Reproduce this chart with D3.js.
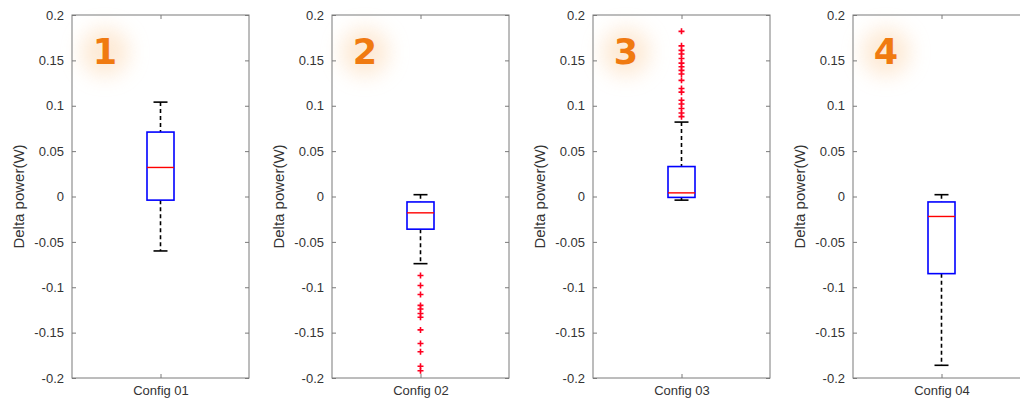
<!DOCTYPE html>
<html><head><meta charset="utf-8">
<script src="https://cdn.jsdelivr.net/npm/d3@7"></script>
<style>
html,body{margin:0;padding:0;background:#fff;overflow:hidden;}
svg{display:block;}
</style></head>
<body>
<script>
// ---- data ----
const categories = ["Config 01", "Config 02", "Config 03", "Config 04"];
const panelNumbers = ["1", "2", "3", "4"];
const whiskerHigh = [0.104, 0.002, 0.082, 0.002];
const q3 = [0.071, -0.006, 0.033, -0.006];
const median = [0.032, -0.018, 0.004, -0.022];
const q1 = [-0.004, -0.036, -0.001, -0.085];
const whiskerLow = [-0.060, -0.074, -0.004, -0.186];
const outliers = [
  [],
  [-0.087, -0.098, -0.108, -0.120, -0.124, -0.129, -0.133, -0.147, -0.162, -0.171, -0.187, -0.192],
  [0.182, 0.166, 0.161, 0.157, 0.152, 0.147, 0.143, 0.139, 0.135, 0.128, 0.119, 0.115, 0.106, 0.102, 0.097, 0.092, 0.088],
  []
];
const yTicks = [0.2, 0.15, 0.1, 0.05, 0, -0.05, -0.1, -0.15, -0.2];
const yTickLabels = ["0.2", "0.15", "0.1", "0.05", "0", "-0.05", "-0.1", "-0.15", "-0.2"];
const yLabel = "Delta power(W)";

// ---- layout ----
const W = 1020, H = 405;
const panelLefts = [72, 332, 593, 853];
const panelW = 177;
const plotTop = 15, plotBottom = 378;

const svg = d3.select("body").append("svg").attr("width", W).attr("height", H);
const defs = svg.append("defs");
const glow = defs.append("filter").attr("id", "glow").attr("x", "-100%").attr("y", "-100%").attr("width", "300%").attr("height", "300%");
glow.append("feGaussianBlur").attr("stdDeviation", 10);

const y = d3.scaleLinear().domain([-0.2, 0.2]).range([plotBottom, plotTop]);
const textColor = "#333";
const axisColor = "#7a7a7a";

categories.forEach((cat, i) => {
  const x0 = panelLefts[i];
  const x = d3.scalePoint().domain([cat]).range([x0, x0 + panelW]).padding(0.5);
  const g = svg.append("g");
  const cx = x(cat);

  // glowing panel number
  g.append("ellipse").attr("cx", x0 + 33).attr("cy", 52).attr("rx", 24).attr("ry", 24)
    .attr("fill", "#fcd9b4").attr("opacity", 0.55).attr("filter", "url(#glow)");
  g.append("text").attr("x", x0 + 33).attr("y", 64).attr("text-anchor", "middle")
    .attr("font-family", "'DejaVu Sans', 'Liberation Sans', sans-serif").attr("font-weight", "bold")
    .attr("font-size", 35).attr("fill", "#f07a10").text(panelNumbers[i]);

  // frame
  g.append("rect").attr("x", x0).attr("y", plotTop).attr("width", panelW).attr("height", plotBottom - plotTop)
    .attr("fill", "none").attr("stroke", axisColor).attr("stroke-width", 1);

  // y axis left
  const ya = d3.axisLeft(y).tickValues(yTicks).tickSize(-4).tickPadding(8)
    .tickFormat((d, k) => yTickLabels[k]);
  const yg = g.append("g").attr("transform", `translate(${x0},0)`).call(ya);
  yg.select(".domain").remove();
  yg.selectAll("line").attr("stroke", axisColor);
  yg.selectAll("text").attr("font-family", "'Liberation Sans', Arial, sans-serif")
    .attr("font-size", 13).attr("fill", textColor);
  // y axis right ticks
  const yr = d3.axisRight(y).tickValues(yTicks).tickSize(-4).tickFormat("");
  const yrg = g.append("g").attr("transform", `translate(${x0 + panelW},0)`).call(yr);
  yrg.select(".domain").remove();
  yrg.selectAll("line").attr("stroke", axisColor);

  // x axis
  const xa = d3.axisBottom(x).tickSize(-4).tickPadding(8);
  const xg = g.append("g").attr("transform", `translate(0,${plotBottom})`).call(xa);
  xg.select(".domain").remove();
  xg.selectAll("line").attr("stroke", axisColor);
  xg.selectAll("text").attr("font-family", "'Liberation Sans', Arial, sans-serif")
    .attr("font-size", 13).attr("fill", textColor);
  const xt = d3.axisTop(x).tickSize(-4).tickFormat("");
  const xtg = g.append("g").attr("transform", `translate(0,${plotTop})`).call(xt);
  xtg.select(".domain").remove();
  xtg.selectAll("line").attr("stroke", axisColor);

  // y label
  g.append("text").attr("transform", `translate(${x0 - 48},${(plotTop + plotBottom) / 2}) rotate(-90)`)
    .attr("text-anchor", "middle").attr("font-family", "'Liberation Sans', Arial, sans-serif")
    .attr("font-size", 15).attr("fill", textColor).text(yLabel);

  // box plot
  const bw = 27, cap = 14;
  g.append("line").attr("x1", cx).attr("x2", cx).attr("y1", y(whiskerHigh[i])).attr("y2", y(q3[i]))
    .attr("stroke", "#000").attr("stroke-width", 1.6).attr("stroke-dasharray", "4,3");
  g.append("line").attr("x1", cx).attr("x2", cx).attr("y1", y(q1[i])).attr("y2", y(whiskerLow[i]))
    .attr("stroke", "#000").attr("stroke-width", 1.6).attr("stroke-dasharray", "4,3");
  [whiskerHigh[i], whiskerLow[i]].forEach(v => {
    g.append("line").attr("x1", cx - cap / 2).attr("x2", cx + cap / 2).attr("y1", y(v)).attr("y2", y(v))
      .attr("stroke", "#000").attr("stroke-width", 1.6);
  });
  g.append("rect").attr("x", cx - bw / 2).attr("y", y(q3[i])).attr("width", bw)
    .attr("height", y(q1[i]) - y(q3[i])).attr("fill", "none").attr("stroke", "#0000ff").attr("stroke-width", 1.6);
  g.append("line").attr("x1", cx - bw / 2).attr("x2", cx + bw / 2).attr("y1", y(median[i])).attr("y2", y(median[i]))
    .attr("stroke", "#ff0000").attr("stroke-width", 1.4);
  outliers[i].forEach(v => {
    const py = y(v);
    g.append("path").attr("d", `M${cx - 3},${py}H${cx + 3}M${cx},${py - 3}V${py + 3}`)
      .attr("stroke", "#ff0020").attr("stroke-width", 1.6);
  });
});
</script>
</body></html>
